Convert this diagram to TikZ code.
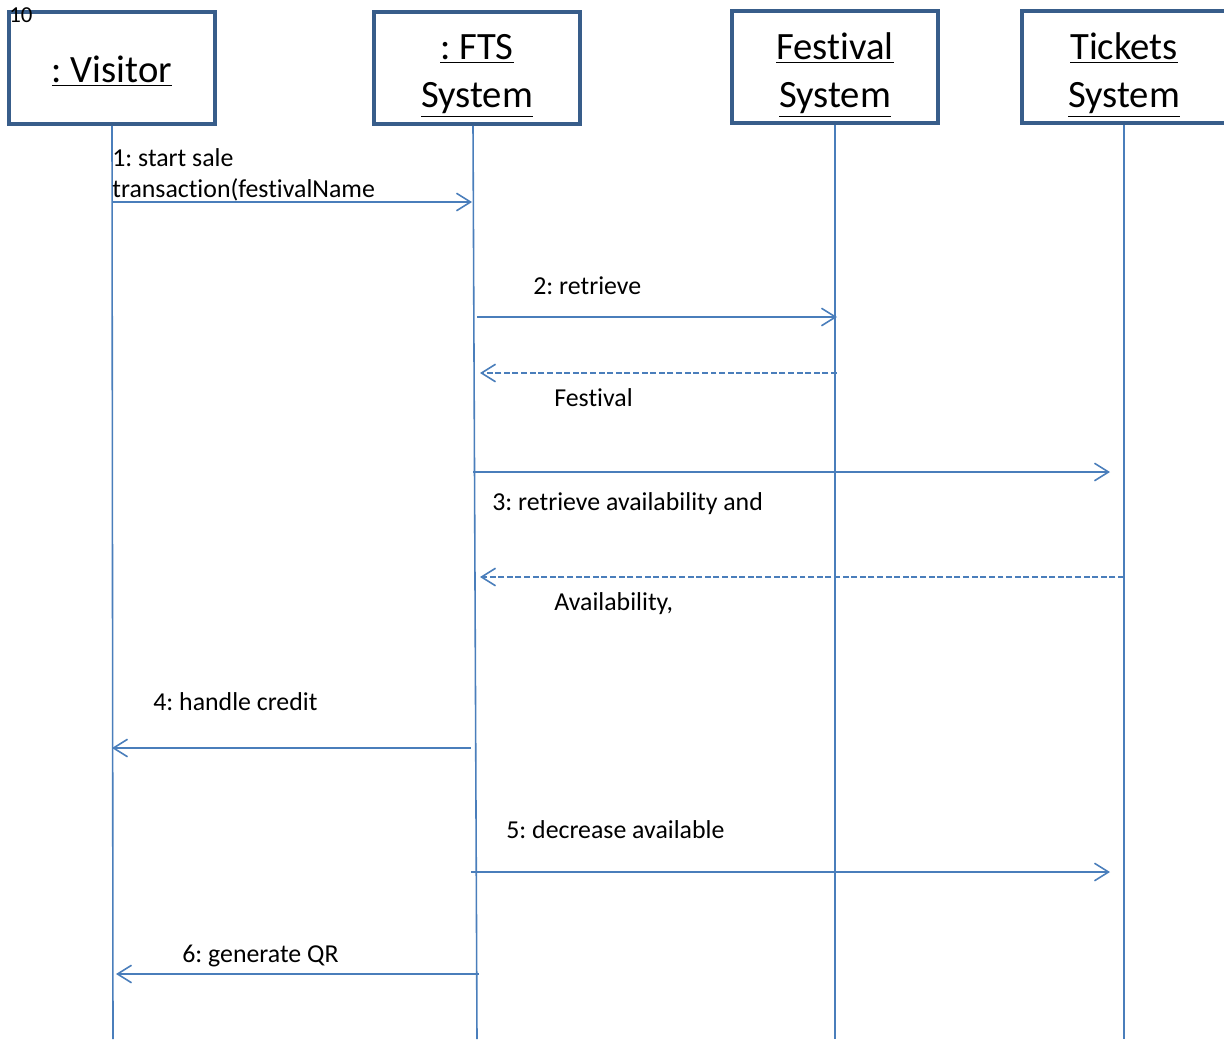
\documentclass[tikz,border=0pt]{standalone}
\usepackage{fontspec}
\setmainfont{Carlito}[Ligatures=NoCommon]
\usetikzlibrary{arrows.meta,positioning}

\definecolor{boxblue}{RGB}{56,93,138}
\definecolor{lineblue}{RGB}{74,126,187}

\frenchspacing

\tikzset{
  objbox/.style={draw=boxblue, line width=2pt, fill=white,
    minimum width=4.12cm, minimum height=2.24cm},
  objtext/.style={align=center, inner sep=0pt,
    font=\fontsize{22}{27.5}\selectfont},
  lifeline/.style={draw=lineblue, line width=0.9pt},
  msg/.style={draw=lineblue, line width=0.9pt,
    -{Straight Barb[length=8pt,width=10pt,line width=0.9pt]}},
  reply/.style={msg, dash pattern=on 3.4pt off 1.5pt},
  msglabel/.style={inner sep=0pt, anchor=base west, align=left,
    font=\fontsize{14.7}{18}\selectfont}
}

\begin{document}
\begin{tikzpicture}[x=0.02cm,y=-0.02cm]
  \useasboundingbox (0,0) rectangle (1224,1039);
  \clip (0,0) rectangle (1224,1039);

  % objects
  \node[objbox] (visitor) at (112,68) {};
  \node[objbox] (fts) at (477,68) {};
  \node[objbox] (festival) at (835,67) {};
  \node[objbox] (tickets) at (1125,67) {};
  \node[objtext] (visitortext) at (112,71) {\underline{: Visitor}};
  \node[objtext] (ftstext) at (477,76) {\underline{: FTS}\\\underline{System}};
  \node[objtext] (festivaltext) at (835,75) {\underline{Festival}\\\underline{System}};
  \node[objtext] (ticketstext) at (1124,75) {\underline{Tickets}\\\underline{System}};
  \node[inner sep=0pt, anchor=base west, font=\fontsize{13}{15}\selectfont]
    (pagenum) at (9,22) {10};

  % lifelines
  \coordinate (visitorend) at (113,1039);
  \coordinate (ftsend) at (477,1039);
  \coordinate (festivalend) at (835,1039);
  \coordinate (ticketsend) at (1124,1039);
  \draw[lifeline] (visitor.south) -- (visitorend);
  \draw[lifeline] ([xshift=-0.08cm]fts.south) -- (ftsend);
  \draw[lifeline] (festival.south) -- (festivalend);
  \draw[lifeline] ([xshift=-0.02cm]tickets.south) -- (ticketsend);

  % message ends
  \coordinate (m1a) at (112,202);  \coordinate (m1b) at (472,202);
  \coordinate (m2a) at (477,317);  \coordinate (m2b) at (837,317);
  \coordinate (r2a) at (837,373);  \coordinate (r2b) at (480,373);
  \coordinate (m3a) at (473,472);  \coordinate (m3b) at (1110,472);
  \coordinate (r3a) at (1124,577); \coordinate (r3b) at (480,577);
  \coordinate (m4a) at (471,748);  \coordinate (m4b) at (112,748);
  \coordinate (m5a) at (471,872);  \coordinate (m5b) at (1110,872);
  \coordinate (m6a) at (479,974);  \coordinate (m6b) at (116,974);

  % messages
  \draw[msg] (m1a) -- (m1b);
  \draw[msg] (m2a) -- (m2b);
  \draw[reply] (r2a) -- (r2b);
  \draw[msg] (m3a) -- (m3b);
  \draw[reply] (r3a) -- (r3b);
  \draw[msg] (m4a) -- (m4b);
  \draw[msg] (m5a) -- (m5b);
  \draw[msg] (m6a) -- (m6b);

  % labels
  \node[msglabel] (l1a) at (112,166) {1: start sale};
  \node[msglabel] (l1b) at (112,197) {transaction(festivalName};
  \node[msglabel] (l2) at (533,294) {2: retrieve};
  \node[msglabel] (lr2) at (554,406) {Festival};
  \node[msglabel] (l3) at (492,510) {3: retrieve availability and};
  \node[msglabel] (lr3) at (554,610) {Availability,};
  \node[msglabel] (l4) at (153,710) {4: handle credit};
  \node[msglabel] (l5) at (506,838) {5: decrease available};
  \node[msglabel] (l6) at (182,962) {6: generate QR};
\end{tikzpicture}
\end{document}
